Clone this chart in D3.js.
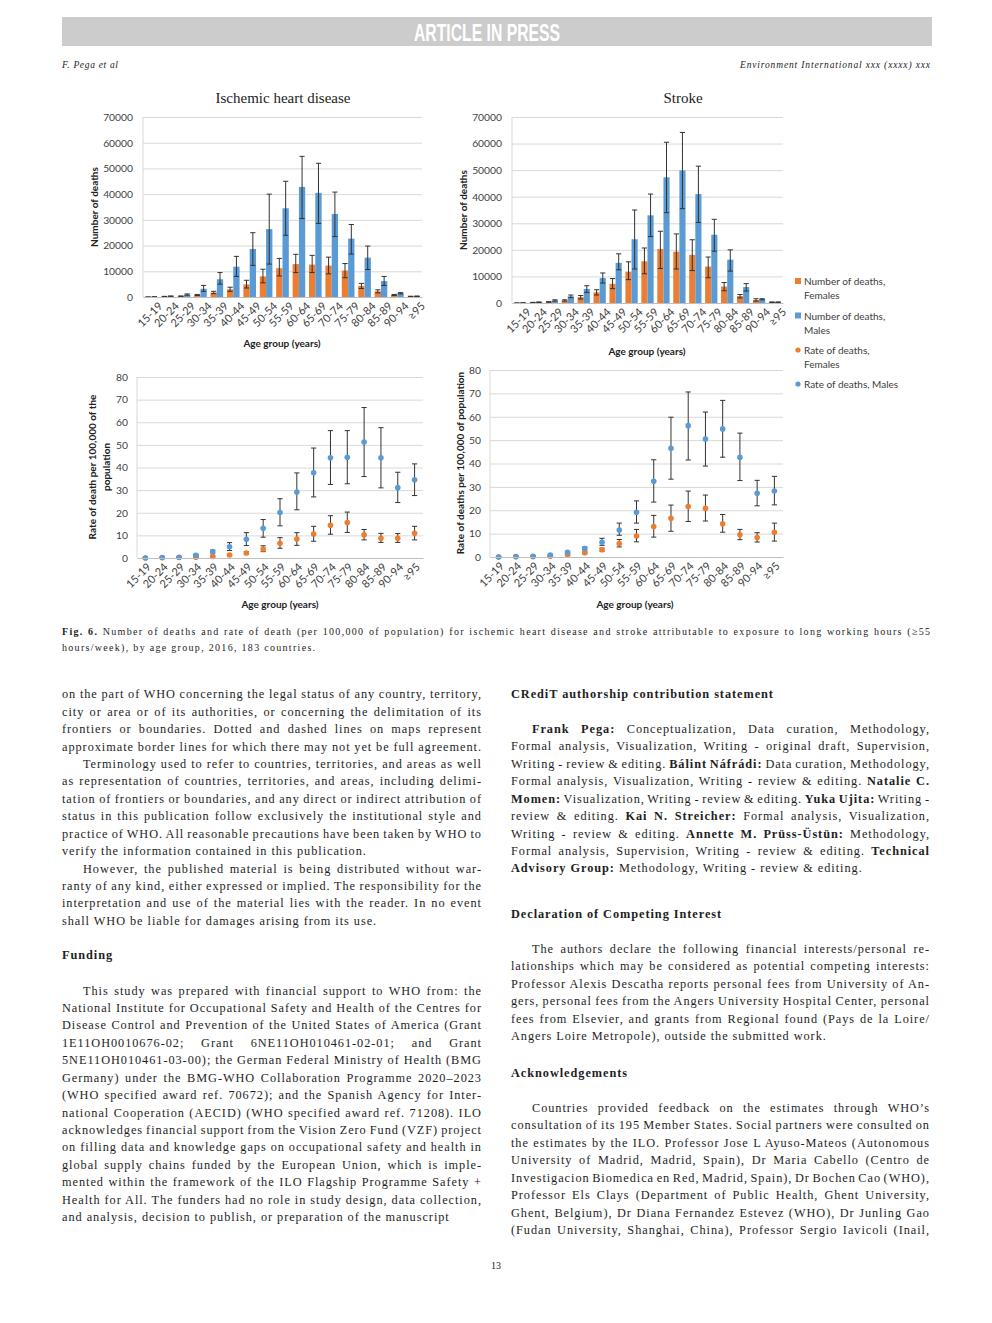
<!DOCTYPE html>
<html><head><meta charset="utf-8">
<script src="https://cdn.jsdelivr.net/npm/d3@7"></script>
<style>body{margin:0;background:#fff}svg{display:block}</style>
</head><body>
<svg id="page" width="992" height="1323"></svg>
<script>
// ---------------- DATA ----------------
const ageGroups = ["15-19","20-24","25-29","30-34","35-39","40-44","45-49","50-54","55-59","60-64","65-69","70-74","75-79","80-84","85-89","90-94","≥95"];
const deathTicks = [0,10000,20000,30000,40000,50000,60000,70000];
const rateTicks = [0,10,20,30,40,50,60,70,80];

// Ischemic heart disease, number of deaths
const ihdDeathsF   = [0,200,300,800,1700,3000,4900,8000,11200,12800,12600,12200,10300,4300,2200,800,200];
const ihdDeathsFLo = [0,150,250,600,1300,2200,3500,5500,8200,9500,9500,9000,7500,3300,1600,600,150];
const ihdDeathsFHi = [0,250,400,1000,2200,3800,6500,10800,15000,16600,16200,15500,13000,5300,2800,1000,300];
const ihdDeathsM   = [50,300,900,3200,6900,11800,18700,26400,34500,42800,40500,32300,22700,15300,6200,1500,300];
const ihdDeathsMLo = [30,250,700,2200,5000,8000,12300,12800,24000,30500,28600,23500,16700,10700,4500,1200,200];
const ihdDeathsMHi = [80,400,1200,4500,9500,15800,25000,40000,45000,54700,52000,40800,28200,19800,8000,1700,400];

// Stroke, number of deaths
const strokeDeathsF   = [0,200,400,900,2200,4000,7200,11800,15700,20300,19300,18100,13700,6200,2600,1100,300];
const strokeDeathsFLo = [0,150,300,700,1500,3000,5400,8800,11000,13000,12800,12200,9500,4600,1900,700,200];
const strokeDeathsFHi = [0,250,500,1200,2800,5000,9200,15500,20700,27000,26000,23800,17300,7700,3200,1600,400];
const strokeDeathsM   = [50,300,900,2500,5300,9400,15100,24000,33000,47300,49900,41000,25700,16300,6000,1400,300];
const strokeDeathsMLo = [30,200,700,2000,4000,7500,12500,12800,25000,34000,35500,30300,19500,12000,4500,1200,200];
const strokeDeathsMHi = [80,400,1200,3000,6500,11300,18500,35000,41000,60500,64200,51500,31500,20000,7300,1600,400];

// Ischemic heart disease, rate per 100,000
const ihdRateM   = [0,0.2,0.3,1.2,2.8,5.0,8.3,13.1,20.1,29.2,37.7,44.3,44.5,51.3,44.3,31.1,34.6];
const ihdRateMLo = [0,0.1,0.2,0.9,2.2,3.3,5.5,9.2,14.2,21.3,27.0,32.5,32.8,36.0,31.0,24.5,27.6];
const ihdRateMHi = [0,0.3,0.4,1.6,3.4,6.8,11.2,17.0,26.2,37.6,48.6,56.3,56.3,66.5,57.6,37.9,41.6];
const ihdRateF   = [0,0.1,0.2,0.3,0.7,1.3,2.2,4.0,6.5,8.4,10.6,14.5,15.7,10.2,8.7,8.7,10.9];
const ihdRateFLo = [0,0.05,0.1,0.2,0.5,1.0,1.6,2.8,4.3,5.6,7.4,10.5,11.3,8.0,6.9,6.9,8.0];
const ihdRateFHi = [0,0.15,0.3,0.4,0.9,1.6,2.8,5.4,9.0,11.2,14.0,18.7,20.3,12.6,10.9,10.8,14.0];

// Stroke, rate per 100,000
const strokeRateM   = [0,0.2,0.3,0.8,2.0,3.6,6.3,11.5,19.1,32.4,46.5,56.2,50.5,54.8,42.6,27.3,28.2];
const strokeRateMLo = [0,0.1,0.2,0.6,1.6,3.0,5.0,9.3,14.5,23.5,33.3,41.5,38.9,42.7,32.7,21.9,22.3];
const strokeRateMHi = [0,0.3,0.4,1.0,2.4,4.3,8.0,14.5,24.0,41.6,59.8,70.6,62.0,67.0,53.0,32.8,34.5];
const strokeRateF   = [0,0.1,0.1,0.3,1.0,1.8,3.1,5.8,9.0,13.0,16.6,21.6,20.8,14.2,9.5,8.3,10.6];
const strokeRateFLo = [0,0.05,0.05,0.2,0.7,1.4,2.5,4.3,6.5,8.5,11.0,15.2,15.4,10.6,7.4,6.4,6.8];
const strokeRateFHi = [0,0.15,0.15,0.4,1.3,2.2,3.8,7.5,11.8,17.8,22.2,28.2,26.5,18.2,11.8,10.4,14.5];

const legendLabels = [["Number of deaths,","Females"],["Number of deaths,","Males"],["Rate of deaths,","Females"],["Rate of deaths, Males"]];

// ---------------- TEXT ----------------
const leftBlockA = [
"on the part of WHO concerning the legal status of any country, territory,",
"city or area or of its authorities, or concerning the delimitation of its",
"frontiers or boundaries. Dotted and dashed lines on maps represent",
"approximate border lines for which there may not yet be full agreement.",
">Terminology used to refer to countries, territories, and areas as well",
"as representation of countries, territories, and areas, including delimi-",
"tation of frontiers or boundaries, and any direct or indirect attribution of",
"status in this publication follow exclusively the institutional style and",
"practice of WHO. All reasonable precautions have been taken by WHO to",
"verify the information contained in this publication.|",
">However, the published material is being distributed without war-",
"ranty of any kind, either expressed or implied. The responsibility for the",
"interpretation and use of the material lies with the reader. In no event",
"shall WHO be liable for damages arising from its use.|"];
const leftBlockB = [
">This study was prepared with financial support to WHO from: the",
"National Institute for Occupational Safety and Health of the Centres for",
"Disease Control and Prevention of the United States of America (Grant",
"1E11OH0010676-02; Grant 6NE11OH010461-02-01; and Grant",
"5NE11OH010461-03-00); the German Federal Ministry of Health (BMG",
"Germany) under the BMG-WHO Collaboration Programme 2020–2023",
"(WHO specified award ref. 70672); and the Spanish Agency for Inter-",
"national Cooperation (AECID) (WHO specified award ref. 71208). ILO",
"acknowledges financial support from the Vision Zero Fund (VZF) project",
"on filling data and knowledge gaps on occupational safety and health in",
"global supply chains funded by the European Union, which is imple-",
"mented within the framework of the ILO Flagship Programme Safety +",
"Health for All. The funders had no role in study design, data collection,",
"and analysis, decision to publish, or preparation of the manuscript|"];
const rightBlockC = [
">**Frank Pega:** Conceptualization, Data curation, Methodology,",
"Formal analysis, Visualization, Writing - original draft, Supervision,",
"Writing - review & editing. **Bálint Náfrádi:** Data curation, Methodology,",
"Formal analysis, Visualization, Writing - review & editing. **Natalie C.**",
"**Momen:** Visualization, Writing - review & editing. **Yuka Ujita:** Writing -",
"review & editing. **Kai N. Streicher:** Formal analysis, Visualization,",
"Writing - review & editing. **Annette M. Prüss-Üstün:** Methodology,",
"Formal analysis, Supervision, Writing - review & editing. **Technical**",
"**Advisory Group:** Methodology, Writing - review & editing.|"];
const rightBlockD = [
">The authors declare the following financial interests/personal re-",
"lationships which may be considered as potential competing interests:",
"Professor Alexis Descatha reports personal fees from University of An-",
"gers, personal fees from the Angers University Hospital Center, personal",
"fees from Elsevier, and grants from Regional found (Pays de la Loire/",
"Angers Loire Metropole), outside the submitted work.|"];
const rightBlockE = [
">Countries provided feedback on the estimates through WHO’s",
"consultation of its 195 Member States. Social partners were consulted on",
"the estimates by the ILO. Professor Jose L Ayuso-Mateos (Autonomous",
"University of Madrid, Madrid, Spain), Dr Maria Cabello (Centro de",
"Investigacion Biomedica en Red, Madrid, Spain), Dr Bochen Cao (WHO),",
"Professor Els Clays (Department of Public Health, Ghent University,",
"Ghent, Belgium), Dr Diana Fernandez Estevez (WHO), Dr Junling Gao",
"(Fudan University, Shanghai, China), Professor Sergio Iavicoli (Inail,"];
const captionLines = [
"**Fig. 6.** Number of deaths and rate of death (per 100,000 of population) for ischemic heart disease and stroke attributable to exposure to long working hours (≥55",
"hours/week), by age group, 2016, 183 countries.|"];

// ---------------- DRAWING ----------------
const svg = d3.select("#page");
const ORANGE = "#ED7D31", BLUE = "#5B9BD5", GRID = "#D9D9D9", ERR = "#333333", TXT = "#404040";
const SANS = "Lato, 'Open Sans', sans-serif";
const SERIF = "'Liberation Serif', 'DejaVu Serif', serif";
const BODY_SIZE = 12.3, BODY_LS = 0.95, CAP_LS = 1.3;

// Header
svg.append("rect").attr("x",62).attr("y",17).attr("width",870).attr("height",29).attr("fill","#cccccc");
svg.append("text").attr("x",487).attr("y",41).attr("text-anchor","middle").attr("fill","#fff")
  .attr("font-family","'Liberation Sans Narrow','Liberation Sans',sans-serif").attr("font-weight","bold")
  .attr("font-size",24).attr("textLength",146).attr("lengthAdjust","spacingAndGlyphs").text("ARTICLE IN PRESS");
svg.append("text").attr("x",62).attr("y",68).attr("font-family",SERIF).attr("font-style","italic")
  .attr("font-size",9.5).attr("fill","#222").attr("textLength",56).attr("lengthAdjust","spacing").text("F. Pega et al");
svg.append("text").attr("x",740).attr("y",68).attr("font-family",SERIF).attr("font-style","italic")
  .attr("font-size",9.5).attr("fill","#222").attr("textLength",190).attr("lengthAdjust","spacing").text("Environment International xxx (xxxx) xxx");

function yAxisGrid(g, y, ticks, cfg) {
  const ax = g.append("g").attr("transform",`translate(${cfg.x0},0)`)
    .call(d3.axisLeft(y).tickValues(ticks).tickSize(-(cfg.x1-cfg.x0)).tickPadding(cfg.tickPad).tickFormat(d3.format("d")));
  ax.select(".domain").remove();
  ax.selectAll("line").attr("stroke",GRID).attr("stroke-width",1);
  ax.selectAll("text").attr("font-family",SANS).attr("font-size",10.3).attr("fill",TXT);
  g.append("line").attr("x1",cfg.x0).attr("x2",cfg.x0).attr("y1",cfg.y0).attr("y2",cfg.y1).attr("stroke",GRID);
}
function xAxisLabels(g, x, cfg, offset) {
  const ax = g.append("g").attr("transform",`translate(0,${cfg.y1})`)
    .call(d3.axisBottom(x).tickSize(0).tickPadding(0));
  ax.select(".domain").attr("stroke","#BFBFBF");
  ax.selectAll("text").attr("font-family",SANS).attr("font-size",11).attr("fill",TXT)
    .attr("text-anchor","end").attr("x",0).attr("y",0).attr("dy","0.35em")
    .attr("transform",`translate(${offset+3},7) rotate(-45)`);
}
function titles(g, cfg) {
  if (cfg.title) g.append("text").attr("x",cfg.tx).attr("y",cfg.ty).attr("text-anchor","middle")
    .attr("font-family",SERIF).attr("font-size",15).attr("fill","#222").text(cfg.title);
  g.append("text").attr("x",cfg.axX).attr("y",cfg.axY).attr("text-anchor","middle")
    .attr("font-family",SANS).attr("font-weight","bold").attr("font-size",10).attr("fill","#222").text("Age group (years)");
  cfg.yTitle.forEach((t,i) => {
    g.append("text").attr("transform",`translate(${cfg.ytX[i]},${cfg.ytY}) rotate(-90)`).attr("text-anchor","middle")
      .attr("dy","0.35em").attr("font-family",SANS).attr("font-weight","bold").attr("font-size",10).attr("fill","#222").text(t);
  });
}
function errBars(g, xs, y, lo, hi, cap) {
  const e = g.append("g").attr("stroke",ERR).attr("stroke-width",1);
  ageGroups.forEach((a,i) => {
    const cx = xs(i);
    e.append("line").attr("x1",cx).attr("x2",cx).attr("y1",y(lo[i])).attr("y2",y(hi[i]));
    e.append("line").attr("x1",cx-cap).attr("x2",cx+cap).attr("y1",y(lo[i])).attr("y2",y(lo[i]));
    e.append("line").attr("x1",cx-cap).attr("x2",cx+cap).attr("y1",y(hi[i])).attr("y2",y(hi[i]));
  });
}

function barChart(cfg, F, FLo, FHi, M, MLo, MHi) {
  const g = svg.append("g");
  const x = d3.scaleBand().domain(ageGroups).range([cfg.x0,cfg.x1]).paddingInner(0.23).paddingOuter(0.115);
  const sub = d3.scaleBand().domain(["F","M"]).range([0,x.bandwidth()]);
  const y = d3.scaleLinear().domain([0,70000]).range([cfg.y1,cfg.y0]);
  yAxisGrid(g, y, deathTicks, cfg);
  g.selectAll(".bf").data(F).join("rect").attr("fill",ORANGE)
    .attr("x",(d,i)=>x(ageGroups[i])+sub("F")).attr("width",sub.bandwidth())
    .attr("y",d=>y(d)).attr("height",d=>y(0)-y(d));
  g.selectAll(".bm").data(M).join("rect").attr("fill",BLUE)
    .attr("x",(d,i)=>x(ageGroups[i])+sub("M")).attr("width",sub.bandwidth())
    .attr("y",d=>y(d)).attr("height",d=>y(0)-y(d));
  errBars(g, i=>x(ageGroups[i])+sub("F")+sub.bandwidth()/2, y, FLo, FHi, 2.6);
  errBars(g, i=>x(ageGroups[i])+sub("M")+sub.bandwidth()/2, y, MLo, MHi, 2.6);
  xAxisLabels(g, x, cfg, x.bandwidth()/2);
  titles(g, cfg);
}
function dotChart(cfg, F, FLo, FHi, M, MLo, MHi) {
  const g = svg.append("g");
  const x = d3.scalePoint().domain(ageGroups).range([cfg.x0,cfg.x1]).padding(0.5);
  const y = d3.scaleLinear().domain([0,80]).range([cfg.y1,cfg.y0]);
  yAxisGrid(g, y, rateTicks, cfg);
  errBars(g, i=>x(ageGroups[i]), y, FLo, FHi, 2.6);
  errBars(g, i=>x(ageGroups[i]), y, MLo, MHi, 2.6);
  g.selectAll(".df").data(F).join("circle").attr("fill",ORANGE).attr("r",2.8)
    .attr("cx",(d,i)=>x(ageGroups[i])).attr("cy",d=>y(d));
  g.selectAll(".dm").data(M).join("circle").attr("fill",BLUE).attr("r",2.8)
    .attr("cx",(d,i)=>x(ageGroups[i])).attr("cy",d=>y(d));
  xAxisLabels(g, x, cfg, 0);
  titles(g, cfg);
}

barChart({x0:143,x1:422,y0:117,y1:297,tickPad:10,title:"Ischemic heart disease",tx:283,ty:103,
  axX:282,axY:347,yTitle:["Number of deaths"],ytX:[94],ytY:207},
  ihdDeathsF,ihdDeathsFLo,ihdDeathsFHi,ihdDeathsM,ihdDeathsMLo,ihdDeathsMHi);
barChart({x0:512,x1:783,y0:117,y1:303,tickPad:10,title:"Stroke",tx:683,ty:103,
  axX:647,axY:355,yTitle:["Number of deaths"],ytX:[463],ytY:210},
  strokeDeathsF,strokeDeathsFLo,strokeDeathsFHi,strokeDeathsM,strokeDeathsMLo,strokeDeathsMHi);
dotChart({x0:137,x1:423,y0:377,y1:558,tickPad:9,axX:280,axY:608,
  yTitle:["Rate of death per 100,000 of the","population"],ytX:[92,106.5],ytY:467},
  ihdRateF,ihdRateFLo,ihdRateFHi,ihdRateM,ihdRateMLo,ihdRateMHi);
dotChart({x0:490,x1:783,y0:370,y1:557,tickPad:9,axX:635,axY:608,
  yTitle:["Rate of deaths per 100,000 of population"],ytX:[460],ytY:463},
  strokeRateF,strokeRateFLo,strokeRateFHi,strokeRateM,strokeRateMLo,strokeRateMHi);

// Legend
const lg = svg.append("g").attr("font-family",SANS).attr("font-size",10).attr("fill",TXT);
const legendY = [285,319.5,354,388];
const legendKinds = [["rect",ORANGE],["rect",BLUE],["circle",ORANGE],["circle",BLUE]];
legendLabels.forEach((lines,i)=>{
  const [kind,col] = legendKinds[i];
  if (kind==="rect") lg.append("rect").attr("x",795).attr("y",legendY[i]-7).attr("width",6).attr("height",6).attr("fill",col);
  else lg.append("circle").attr("cx",798).attr("cy",legendY[i]-4).attr("r",2.6).attr("fill",col);
  lines.forEach((t,k)=> lg.append("text").attr("x",804).attr("y",legendY[i]+k*14).text(t));
});

// Body text
const LH = 17.43;
function block(x, width, y0, lines) {
  lines.forEach((ln,i)=>{
    let s = ln, indent = 0, justify = true;
    if (s.startsWith(">")) { indent = 21; s = s.slice(1); }
    if (s.endsWith("|")) { justify = false; s = s.slice(0,-1); }
    const t = svg.append("text").attr("x",x+indent).attr("y",y0+i*LH)
      .attr("font-family",SERIF).attr("font-size",BODY_SIZE).attr("letter-spacing",BODY_LS).attr("fill","#1e1e1e");
    s.split("**").forEach((p,k)=>{ if (p) t.append("tspan").attr("font-weight",k%2?"bold":null).text(p); });
    if (justify) {
      const w = t.node().getComputedTextLength() - BODY_LS;
      const n = (s.match(/ /g)||[]).length;
      if (n) t.attr("word-spacing",(width-indent-w)/n);
    }
  });
}
function heading(x, y, text) {
  svg.append("text").attr("x",x).attr("y",y).attr("font-family",SERIF).attr("font-weight","bold")
    .attr("font-size",BODY_SIZE).attr("letter-spacing",BODY_LS).attr("fill","#1e1e1e").text(text);
}
block(62,419,698.3,leftBlockA);
heading(62,959,"Funding");
block(62,419,994.5,leftBlockB);
heading(511,698,"CRediT authorship contribution statement");
block(511,418,733,rightBlockC);
heading(511,918,"Declaration of Competing Interest");
block(511,418,953,rightBlockD);
heading(511,1077,"Acknowledgements");
block(511,418,1112,rightBlockE);

// Caption
captionLines.forEach((ln,i)=>{
  let s = ln, justify = true;
  if (s.endsWith("|")) { justify=false; s=s.slice(0,-1); }
  const t = svg.append("text").attr("x",62).attr("y",635+i*16).attr("font-family",SERIF)
    .attr("font-size",10).attr("letter-spacing",CAP_LS).attr("fill","#1e1e1e");
  s.split("**").forEach((p,k)=>{ if (p) t.append("tspan").attr("font-weight",k%2?"bold":null).text(p); });
  if (justify) {
    const w = t.node().getComputedTextLength() - CAP_LS;
    const n = (s.match(/ /g)||[]).length;
    t.attr("word-spacing",(868-w)/n);
  }
});

// Page number
svg.append("text").attr("x",496).attr("y",1269).attr("text-anchor","middle").attr("font-family",SERIF)
  .attr("font-size",10).attr("fill","#1e1e1e").text("13");
</script>
</body></html>
